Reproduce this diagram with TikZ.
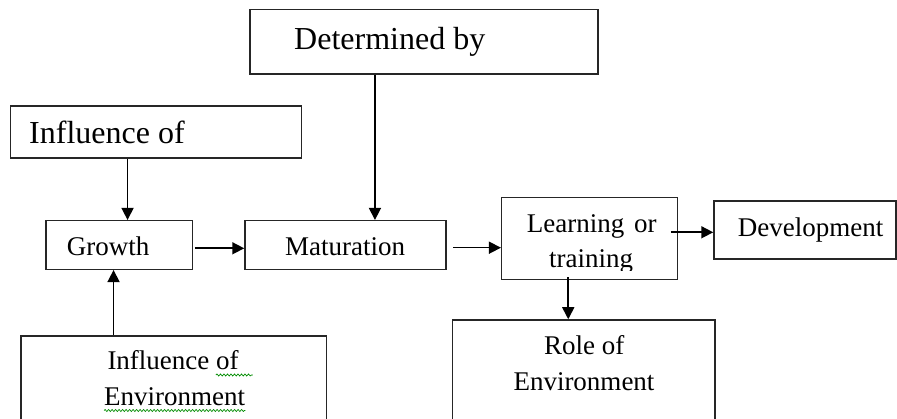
\documentclass[tikz,border=0pt]{standalone}
\usepackage{fontspec}
\setmainfont{Liberation Serif}
\usetikzlibrary{arrows.meta,decorations.pathmorphing}
\begin{document}
\begin{tikzpicture}[x=1pt,y=-1pt,
  box/.style={draw=black!85,line width=1.5pt,rectangle,inner sep=0pt,minimum width=#1},
  arr/.style={draw=black,line width=1.6pt,-{Triangle[length=12pt,width=12pt]}},
  big/.style={anchor=base west,inner sep=0pt,font=\fontsize{32}{38}\selectfont},
  txt/.style={anchor=base west,inner sep=0pt,font=\fontsize{27}{32}\selectfont},
  squig/.style={draw=green!55!black,line width=0.7pt,decorate,decoration={snake,segment length=3.5pt,amplitude=1pt}}]
\useasboundingbox (0,0) rectangle (897,419);
\clip (0,0) rectangle (897,419);
\fill[white] (0,0) rectangle (897,419);
% boxes
\node[box=348pt,minimum height=64.5pt] (det) at (424,41.75) {};
\node[box=291pt,minimum height=52pt] (inf) at (156.2,132) {};
\node[box=146.7pt,minimum height=48.6pt] (gro) at (119.35,245) {};
\node[box=201pt,minimum height=48.6pt] (mat) at (345.5,245) {};
\node[box=175.6pt,minimum height=82pt] (lea) at (589.5,238.3) {};
\node[box=182pt,minimum height=58pt] (dev) at (805,230) {};
\node[box=305.7pt,minimum height=110pt] (env) at (173.85,391) {};
\node[box=262.3pt,minimum height=126pt] (rol) at (583.85,383) {};
% texts
\node[big] (tdet) at (294,50) {Determined by};
\node[big] (tinf) at (29,144) {Influence of};
\node[txt] (tgro) at (66.7,256) {Growth};
\node[txt] (tmat) at (285,256) {Maturation};
\node[txt] (tlea) at (526.7,232.7) {Learning\hspace{3pt} or};
\begin{scope}
\clip (lea.north west) rectangle ([yshift=10pt]lea.south east);
\node[txt] (ttra) at (549,268) {training};
\end{scope}
\node[txt] (tdev) at (737.7,236.7) {Development};
\node[txt] (trol) at (544,355) {Role of};
\node[txt] (trol2) at (513.3,390.7) {Environment};
\node[txt] (tenv) at (107.3,370) {Influence of};
\node[txt] (tenv2) at (104,406) {Environment};
% spell-check squiggles
\draw[squig] ([xshift=-23pt,yshift=-5pt]tenv.base east) -- ([xshift=14pt,yshift=-5pt]tenv.base east);
\draw[squig] ([yshift=-4.5pt]tenv2.base west) -- ([yshift=-4.5pt]tenv2.base east);
% connectors
\draw[arr] ([xshift=130.7pt]mat.north west |- det.south) -- ([xshift=130.7pt]mat.north west);
\draw[arr] ([xshift=82.3pt]gro.north west |- inf.south) -- ([xshift=82.3pt]gro.north west);
\draw[arr] ([xshift=68.3pt]gro.south west |- env.north) -- ([xshift=68.3pt]gro.south west);
\draw[arr] ([xshift=1.5pt,yshift=-3.3pt]gro.east) -- ([yshift=-3.3pt]gro.east -| mat.west);
\draw[arr] ([xshift=6.7pt,yshift=-2.7pt]mat.east) -- ([yshift=-2.7pt]mat.east -| lea.west);
\draw[arr] ([xshift=-7.3pt,yshift=-2.3pt]dev.west -| lea.east) -- ([yshift=-2.3pt]dev.west);
\draw[arr] ([xshift=67.3pt,yshift=3pt]lea.south west) -- ([xshift=67.3pt]lea.south west |- rol.north);
\end{tikzpicture}
\end{document}
